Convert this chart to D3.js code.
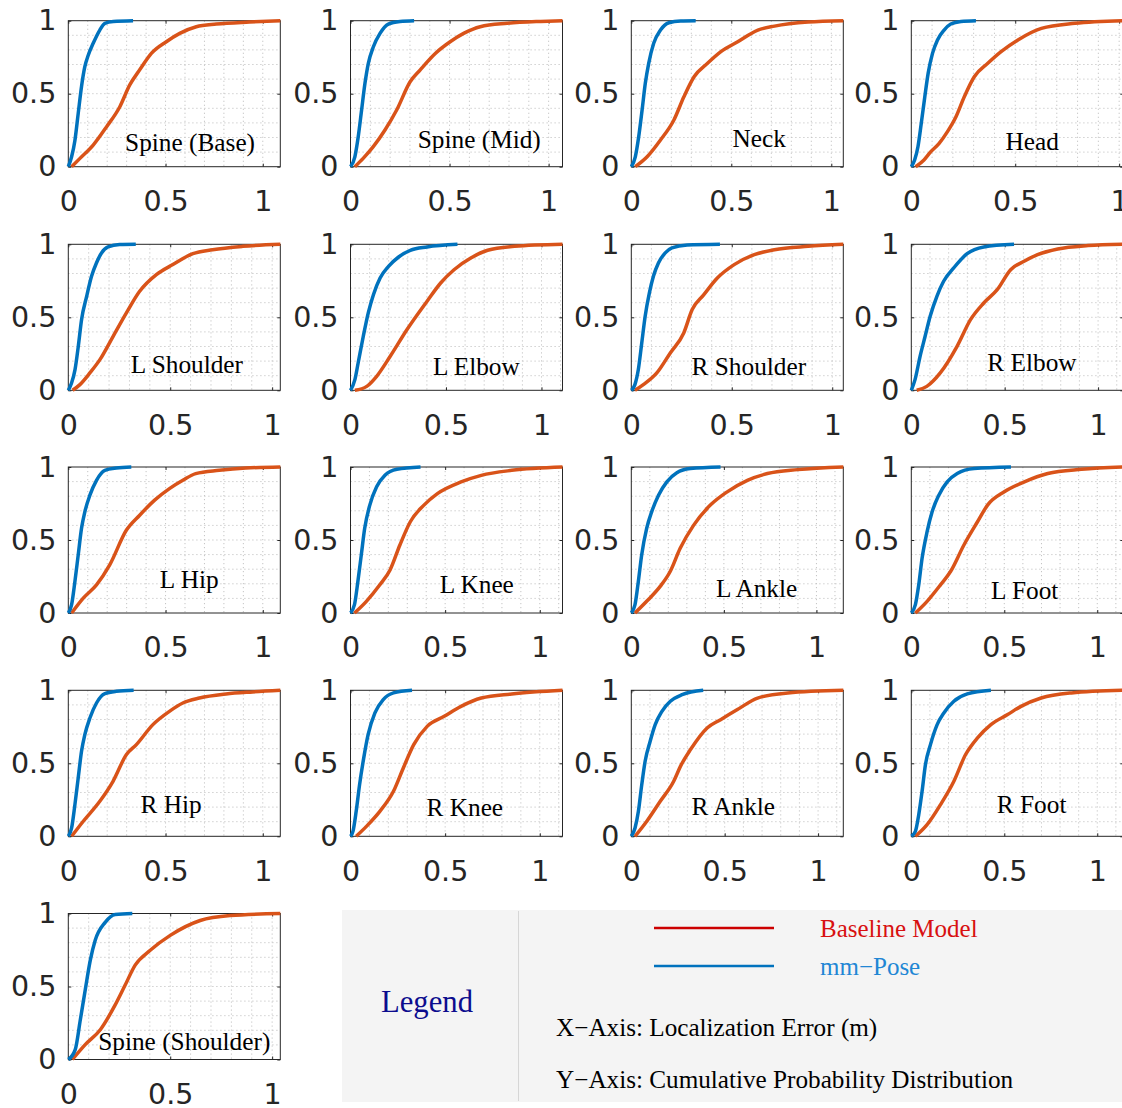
<!DOCTYPE html>
<html>
<head>
<meta charset="utf-8">
<script src="https://cdn.jsdelivr.net/npm/d3@7"></script>
<style>
  body { margin: 0; background: #fff; }
  svg { display: block; }
</style>
</head>
<body>
<script>
// joints, one panel each (row by row)
const joints = ["Spine (Base)", "Spine (Mid)", "Neck", "Head",
  "L Shoulder", "L Elbow", "R Shoulder", "R Elbow",
  "L Hip", "L Knee", "L Ankle", "L Foot",
  "R Hip", "R Knee", "R Ankle", "R Foot",
  "Spine (Shoulder)"];

// right end of each panel's x axis (m)
const xMax = [1.09, 1.07, 1.06, 1.02, 1.04, 1.11, 1.055, 1.135,
  1.09, 1.12, 1.145, 1.14, 1.09, 1.12, 1.135, 1.14, 1.04];

const xTicks = [0, 0.5, 1];
const yTicks = [0, 0.5, 1];

// CDF curves, [error (m), probability]
const mmPose = [
  [[0,0],[0.017,0.068],[0.034,0.18],[0.051,0.365],[0.068,0.55],[0.085,0.685],[0.103,0.765],[0.128,0.845],[0.162,0.936],[0.188,0.982],[0.231,0.995],[0.333,1]],
  [[0,0],[0.022,0.068],[0.039,0.205],[0.056,0.388],[0.073,0.571],[0.09,0.708],[0.115,0.82],[0.149,0.913],[0.191,0.977],[0.25,0.995],[0.321,1]],
  [[0,0],[0.02,0.068],[0.037,0.205],[0.054,0.388],[0.07,0.571],[0.087,0.708],[0.112,0.845],[0.146,0.936],[0.188,0.986],[0.247,0.998],[0.322,1]],
  [[0,0],[0.016,0.046],[0.032,0.137],[0.048,0.297],[0.065,0.479],[0.081,0.639],[0.102,0.776],[0.126,0.868],[0.158,0.936],[0.19,0.977],[0.239,0.995],[0.311,1]],
  [[0,0],[0.016,0.05],[0.033,0.142],[0.049,0.301],[0.065,0.484],[0.09,0.644],[0.114,0.781],[0.138,0.872],[0.163,0.941],[0.195,0.982],[0.252,0.998],[0.331,1]],
  [[0,0],[0.023,0.073],[0.04,0.187],[0.067,0.37],[0.093,0.53],[0.12,0.655],[0.155,0.769],[0.199,0.849],[0.252,0.913],[0.313,0.959],[0.401,0.982],[0.56,1]],
  [[0,0],[0.018,0.039],[0.035,0.142],[0.052,0.324],[0.069,0.507],[0.09,0.667],[0.11,0.781],[0.135,0.872],[0.169,0.941],[0.202,0.975],[0.278,0.995],[0.441,1]],
  [[0,0],[0.02,0.073],[0.047,0.233],[0.074,0.37],[0.101,0.507],[0.137,0.644],[0.173,0.747],[0.227,0.838],[0.299,0.936],[0.388,0.982],[0.55,1]],
  [[0,0],[0.017,0.057],[0.034,0.216],[0.051,0.398],[0.068,0.58],[0.085,0.693],[0.111,0.807],[0.145,0.909],[0.188,0.977],[0.247,0.993],[0.324,1]],
  [[0,0],[0.021,0.057],[0.039,0.216],[0.057,0.398],[0.075,0.58],[0.102,0.739],[0.138,0.864],[0.182,0.943],[0.245,0.984],[0.37,1]],
  [[0,0],[0.02,0.057],[0.038,0.216],[0.056,0.398],[0.083,0.58],[0.11,0.693],[0.147,0.807],[0.192,0.898],[0.246,0.961],[0.319,0.989],[0.482,1]],
  [[0,0],[0.022,0.057],[0.04,0.193],[0.058,0.375],[0.085,0.557],[0.112,0.693],[0.148,0.807],[0.193,0.898],[0.247,0.955],[0.338,0.989],[0.536,1]],
  [[0,0],[0.017,0.057],[0.034,0.217],[0.051,0.4],[0.068,0.582],[0.085,0.696],[0.111,0.81],[0.145,0.913],[0.188,0.977],[0.247,0.993],[0.336,1]],
  [[0,0],[0.013,0.034],[0.03,0.171],[0.048,0.354],[0.07,0.537],[0.093,0.696],[0.129,0.845],[0.173,0.936],[0.227,0.982],[0.325,1]],
  [[0,0],[0.02,0.057],[0.038,0.171],[0.056,0.354],[0.074,0.514],[0.101,0.651],[0.128,0.765],[0.164,0.856],[0.209,0.925],[0.272,0.97],[0.385,1]],
  [[0,0],[0.022,0.034],[0.04,0.148],[0.058,0.308],[0.076,0.491],[0.103,0.628],[0.139,0.765],[0.175,0.845],[0.229,0.925],[0.301,0.975],[0.428,1]],
  [[0,0],[0.034,0.068],[0.059,0.272],[0.083,0.476],[0.108,0.68],[0.132,0.816],[0.181,0.939],[0.23,0.993],[0.314,1]]
];

const baseline = [
  [[0.017,0],[0.06,0.057],[0.128,0.148],[0.197,0.274],[0.265,0.411],[0.316,0.56],[0.368,0.665],[0.427,0.776],[0.504,0.856],[0.573,0.913],[0.658,0.959],[0.761,0.977],[0.932,0.991],[1.09,1]],
  [[0.022,0],[0.064,0.057],[0.115,0.137],[0.174,0.251],[0.233,0.388],[0.301,0.582],[0.351,0.662],[0.428,0.776],[0.503,0.856],[0.571,0.913],[0.655,0.959],[0.791,0.982],[0.96,0.995],[1.07,1]],
  [[0.02,0],[0.079,0.068],[0.146,0.183],[0.213,0.32],[0.263,0.479],[0.314,0.616],[0.381,0.708],[0.448,0.788],[0.532,0.856],[0.633,0.936],[0.716,0.963],[0.884,0.991],[1.06,1]],
  [[0.021,0],[0.061,0.046],[0.094,0.103],[0.134,0.16],[0.174,0.24],[0.215,0.342],[0.255,0.479],[0.303,0.616],[0.368,0.708],[0.432,0.788],[0.513,0.868],[0.626,0.947],[0.787,0.982],[1.02,1]],
  [[0.021,0],[0.057,0.039],[0.106,0.119],[0.155,0.21],[0.22,0.37],[0.285,0.53],[0.35,0.678],[0.432,0.792],[0.513,0.861],[0.611,0.936],[0.708,0.963],[0.855,0.986],[1.04,1]],
  [[0.023,0],[0.085,0.027],[0.137,0.096],[0.208,0.233],[0.296,0.416],[0.401,0.61],[0.472,0.735],[0.542,0.826],[0.63,0.906],[0.718,0.959],[0.859,0.986],[1.11,1]],
  [[0.018,0],[0.06,0.039],[0.127,0.119],[0.194,0.256],[0.261,0.393],[0.303,0.553],[0.361,0.655],[0.428,0.769],[0.512,0.861],[0.612,0.929],[0.712,0.963],[0.88,0.986],[1.055,1]],
  [[0.029,0],[0.083,0.027],[0.155,0.119],[0.245,0.301],[0.317,0.484],[0.388,0.598],[0.46,0.689],[0.532,0.826],[0.604,0.884],[0.676,0.929],[0.784,0.968],[0.946,0.991],[1.135,1]],
  [[0.017,0],[0.077,0.102],[0.145,0.193],[0.213,0.33],[0.299,0.568],[0.367,0.67],[0.444,0.773],[0.52,0.852],[0.589,0.909],[0.655,0.955],[0.776,0.977],[0.913,0.993],[1.09,1]],
  [[0.021,0],[0.084,0.08],[0.155,0.193],[0.209,0.295],[0.261,0.466],[0.316,0.625],[0.388,0.739],[0.459,0.818],[0.584,0.898],[0.691,0.943],[0.852,0.977],[1.12,1]],
  [[0.02,0],[0.083,0.08],[0.156,0.182],[0.21,0.284],[0.264,0.443],[0.337,0.602],[0.427,0.739],[0.518,0.83],[0.627,0.909],[0.735,0.955],[0.899,0.982],[1.145,1]],
  [[0.022,0],[0.085,0.08],[0.157,0.193],[0.211,0.284],[0.283,0.466],[0.356,0.625],[0.41,0.739],[0.5,0.83],[0.608,0.898],[0.734,0.955],[0.915,0.984],[1.14,1]],
  [[0.017,0],[0.077,0.103],[0.162,0.24],[0.23,0.377],[0.299,0.56],[0.35,0.628],[0.435,0.765],[0.52,0.856],[0.589,0.913],[0.674,0.947],[0.811,0.975],[0.947,0.989],[1.09,1]],
  [[0.03,0],[0.084,0.068],[0.155,0.171],[0.227,0.308],[0.279,0.468],[0.334,0.628],[0.405,0.753],[0.495,0.822],[0.584,0.89],[0.691,0.947],[0.852,0.975],[1.12,1]],
  [[0.02,0],[0.083,0.103],[0.155,0.24],[0.227,0.377],[0.263,0.479],[0.317,0.594],[0.406,0.742],[0.478,0.799],[0.568,0.868],[0.676,0.947],[0.838,0.982],[1.135,1]],
  [[0.022,0],[0.085,0.08],[0.157,0.217],[0.229,0.377],[0.292,0.56],[0.356,0.674],[0.428,0.765],[0.518,0.834],[0.59,0.89],[0.698,0.947],[0.861,0.982],[1.14,1]],
  [[0.02,0],[0.083,0.102],[0.157,0.204],[0.23,0.374],[0.279,0.51],[0.328,0.646],[0.402,0.748],[0.5,0.85],[0.647,0.952],[0.794,0.986],[1.04,1]]
];

// where each joint name sits, in data units of its panel
const labelAt = [[0.626,0.109],[0.65,0.129],[0.639,0.136],[0.582,0.114],
  [0.582,0.118],[0.659,0.107],[0.585,0.107],[0.646,0.129],
  [0.622,0.174],[0.667,0.136],[0.677,0.113],[0.61,0.097],
  [0.529,0.159],[0.604,0.14],[0.546,0.147],[0.647,0.159],
  [0.569,0.068]];

const legendNames = ["Baseline Model", "mm\u2212Pose"];
const axisNotes = ["X\u2212Axis: Localization Error (m)", "Y\u2212Axis: Cumulative Probability Distribution"];

const width = 1122, height = 1108;
const pw = 212, ph = 146;
const colX = [68.3, 350.5, 631.3, 911.3];
const rowY = [20.7, 244.3, 467, 690.3, 913.5];
const blue = "#0072BD", orange = "#D95319", axisCol = "#262626";
const sansFont = "'DejaVu Sans', sans-serif";
const serifFont = "'Liberation Serif', 'Times New Roman', serif";

const svg = d3.select("body").append("svg")
  .attr("width", width)
  .attr("height", height);

joints.forEach((name, i) => {
  const g = svg.append("g")
    .attr("transform", `translate(${colX[i % 4]},${rowY[Math.floor(i / 4)]})`);

  const x = d3.scaleLinear().domain([0, xMax[i]]).range([0, pw]);
  const y = d3.scaleLinear().domain([0, 1]).range([ph, 0]);

  g.append("rect").attr("width", pw).attr("height", ph).attr("fill", "#fff");

  // dotted grid every 0.1
  const gx = d3.range(1, Math.floor(xMax[i] * 10 + 1e-6) + 1).map(k => k / 10).filter(v => v < xMax[i] - 1e-6);
  const gy = d3.range(1, 10).map(k => k / 10);
  g.append("g").selectAll("line").data(gx).join("line")
    .attr("x1", d => x(d)).attr("x2", d => x(d))
    .attr("y1", 0).attr("y2", ph)
    .attr("stroke", "#c4c4c4").attr("stroke-width", 1).attr("stroke-dasharray", "1.2,2.8");
  g.append("g").selectAll("line").data(gy).join("line")
    .attr("x1", 0).attr("x2", pw)
    .attr("y1", d => y(d)).attr("y2", d => y(d))
    .attr("stroke", "#c4c4c4").attr("stroke-width", 1).attr("stroke-dasharray", "1.2,2.8");

  // axes, ticks pointing inward
  const fmt = d => d;
  const bottom = g.append("g").attr("transform", `translate(0,${ph})`)
    .call(d3.axisBottom(x).tickValues(xTicks).tickFormat(fmt).tickSizeInner(-3).tickSizeOuter(0).tickPadding(24));
  const left = g.append("g")
    .call(d3.axisLeft(y).tickValues(yTicks).tickFormat(fmt).tickSizeInner(-3).tickSizeOuter(0).tickPadding(12));
  const top = g.append("g")
    .call(d3.axisTop(x).tickValues(xTicks).tickFormat("").tickSizeInner(-3).tickSizeOuter(0));
  const right = g.append("g").attr("transform", `translate(${pw},0)`)
    .call(d3.axisRight(y).tickValues(yTicks).tickFormat("").tickSizeInner(-3).tickSizeOuter(0));

  [bottom, left, top, right].forEach(a => {
    a.select(".domain").remove();
    a.selectAll("line").attr("stroke", axisCol);
    a.selectAll("text")
      .attr("fill", axisCol)
      .style("font-family", sansFont)
      .style("font-size", "28.5px");
  });

  g.append("rect").attr("width", pw).attr("height", ph)
    .attr("fill", "none").attr("stroke", axisCol).attr("stroke-width", 1);

  const line = d3.line()
    .x(d => x(d[0]))
    .y(d => y(d[1]))
    .curve(d3.curveMonotoneX);

  g.append("path")
    .datum(baseline[i])
    .attr("fill", "none")
    .attr("stroke", orange)
    .attr("stroke-width", 3.5)
    .attr("stroke-linejoin", "round")
    .attr("d", line);

  g.append("path")
    .datum(mmPose[i])
    .attr("fill", "none")
    .attr("stroke", blue)
    .attr("stroke-width", 3.5)
    .attr("stroke-linejoin", "round")
    .attr("d", line);

  g.append("text")
    .attr("x", x(labelAt[i][0]))
    .attr("y", y(labelAt[i][1]))
    .attr("text-anchor", "middle")
    .style("font-family", serifFont)
    .style("font-size", "25.3px")
    .attr("fill", "#000")
    .text(name);
});

// Legend box
const leg = svg.append("g");
leg.append("rect")
  .attr("x", 342).attr("y", 910)
  .attr("width", 782).attr("height", 192)
  .attr("fill", "#f4f4f4");
leg.append("line")
  .attr("x1", 518.5).attr("x2", 518.5)
  .attr("y1", 911).attr("y2", 1101)
  .attr("stroke", "#d6d6d6").attr("stroke-width", 1);

leg.append("text")
  .attr("x", 427).attr("y", 1002)
  .attr("text-anchor", "middle")
  .attr("dominant-baseline", "central")
  .style("font-family", serifFont)
  .style("font-size", "30.7px")
  .attr("fill", "#0c0c8e")
  .text("Legend");

const lineColors = ["#cc0000", "#0072BD"];
const textColors = ["#d81010", "#2186d4"];
const legY = [928, 966];
legendNames.forEach((n, k) => {
  leg.append("line")
    .attr("x1", 654).attr("x2", 774)
    .attr("y1", legY[k]).attr("y2", legY[k])
    .attr("stroke", lineColors[k]).attr("stroke-width", 2.5);
  leg.append("text")
    .attr("x", 820).attr("y", legY[k])
    .attr("dominant-baseline", "central")
    .style("font-family", serifFont)
    .style("font-size", "25px")
    .attr("fill", textColors[k])
    .text(n);
});

const noteY = [1027, 1079];
axisNotes.forEach((n, k) => {
  leg.append("text")
    .attr("x", 556).attr("y", noteY[k])
    .attr("dominant-baseline", "central")
    .style("font-family", serifFont)
    .style("font-size", "25.2px")
    .attr("fill", "#000")
    .text(n);
});
</script>
</body>
</html>
